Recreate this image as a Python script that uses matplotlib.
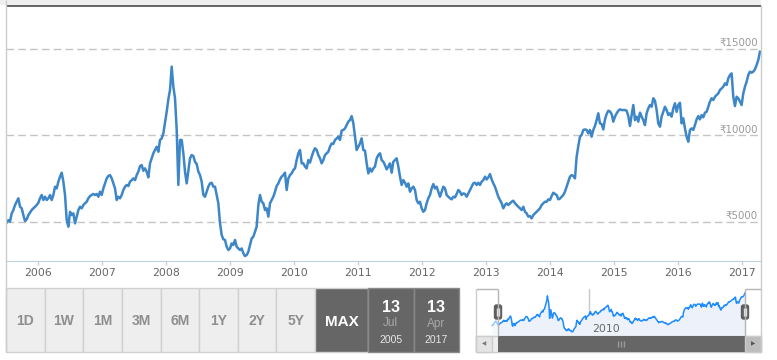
import matplotlib
matplotlib.use("Agg")
import matplotlib.pyplot as plt
import pandas as pd
from matplotlib.patches import Rectangle, FancyBboxPatch

# closing values, one about every 9-10 days
close_2005_2008 = [
    4960, 5100, 5010, 5490, 5680, 5970, 6160, 6360, 5870, 5780, 5390, 5040, 5140, 5390, 5530, 5680,
    5780, 5870, 5970, 6100, 6360, 6550, 6260, 6450, 6260, 6360, 6550, 6260, 6550, 7030, 6930, 7320,
    7610, 7840, 7320, 6550, 5100, 4720, 5580, 5390, 5490, 4910, 5300, 5680, 5870, 5780, 5970, 6070,
    6160, 6360, 6490, 6550, 6610, 6550, 6610, 6450, 6740, 6550, 6930, 7220, 7510, 7650, 7700, 7510,
    7220, 6930, 6260, 6450, 6360, 6550, 6840, 7030, 7130, 7070, 7320, 7410, 7510, 7410, 7700, 7900,
    8220, 8280, 7950, 8090, 7900, 7570, 8380, 8670, 8960, 9150, 9340, 9050, 9730, 9820, 10110, 10730,
    11360, 12080, 12620, 13970, 12810, 12140, 10340, 7130, 9730, 9730, 8960, 7900, 7220, 7950, 8670, 8860,
    8800, 8470,
]
close_2008_2011 = [
    8340, 7900, 7700, 7320, 6550, 6450, 6740, 7030, 7220, 7260, 7030, 7030, 6550, 6070, 4910, 4240,
    3990, 3950, 3560, 3370, 3460, 3750, 3660, 3950, 3560, 3460, 3370, 3460, 3180, 3020, 3080, 3270,
    3660, 4040, 4140, 4430, 4720, 5970, 6550, 6160, 6070, 5680, 5780, 5300, 6070, 6260, 6450, 6740,
    7070, 7220, 7450, 7610, 7700, 7840, 6840, 7510, 7700, 7800, 7990, 8090, 8570, 8960, 9150, 8380,
    8380, 8190, 8090, 8570, 8420, 8760, 9050, 9250, 9150, 8860, 8670, 8380, 8570, 8860, 8960, 9050,
    9340, 9530, 9500, 9730, 9820, 9920, 9730, 10270, 10310, 10400, 10590, 10790, 10880, 11110, 10690, 9920,
    9150, 9340, 9530, 9820, 9150, 9110, 8380, 7800, 8090, 7900, 8090, 8190, 8670, 8860, 8960, 8570,
    8470, 8280,
]
close_2011_2014 = [
    8030, 8190, 8380, 7840, 8470, 8570, 8670, 8190, 7610, 7130, 7410, 7260, 7030, 7220, 6740, 6930,
    7030, 6840, 6260, 6070, 6160, 5780, 5580, 5680, 6070, 6360, 6550, 6930, 7180, 6930, 7030, 6740,
    6450, 6740, 7030, 6930, 6550, 6450, 6360, 6300, 6450, 6410, 6610, 6840, 6740, 6550, 6640, 6610,
    6450, 6640, 6840, 7030, 7220, 7260, 7130, 7260, 7130, 7320, 7410, 7610, 7450, 7570, 7760, 7450,
    7220, 7030, 6740, 6450, 6260, 6070, 5780, 5970, 6070, 5970, 6070, 6160, 6220, 6070, 5970, 5870,
    5780, 5680, 5870, 5580, 5490, 5300, 5330, 5200, 5390, 5490, 5580, 5680, 5780, 5970, 6070, 6160,
    6160, 6300, 6260, 6490, 6680, 6610, 6550, 6300, 6340, 6450, 6550, 6740, 7030, 7320, 7610, 7700,
    7650, 7510,
]
close_2014_2017 = [
    8760, 9380, 9920, 10020, 10310, 10340, 10310, 10110, 10310, 9920, 10310, 10540, 10880, 11270, 10690, 10650,
    10340, 10920, 11230, 11420, 11380, 11230, 10790, 11080, 11270, 11420, 11500, 11460, 11460, 11460, 11420, 11110,
    10540, 11170, 11750, 10880, 11080, 10790, 11310, 11080, 10880, 10590, 11270, 11560, 11750, 11650, 12140, 12000,
    11460, 10690, 10500, 11080, 11360, 11650, 11460, 11170, 11270, 11080, 11560, 11850, 11360, 11750, 11880, 10690,
    10980, 10400, 9920, 9630, 10310, 10400, 10310, 10590, 10920, 11110, 10920, 11170, 11040, 11310, 11360, 11650,
    11940, 12140, 12040, 12230, 12330, 12420, 12620, 12710, 12810, 13000, 12910, 13290, 13480, 13580, 12230, 11690,
    12230, 12140, 11940, 11750, 12420, 12810, 13100, 13480, 13680, 13620, 13680, 13810, 14060, 14350, 14830,
]

first_day = "2005-07-05"
last_day = "2017-04-14"

grid_levels = [5000, 10000, 15000]
grid_labels = ["₹5000", "₹10000", "₹15000"]
years = list(range(2006, 2018))
range_buttons = ["1D", "1W", "1M", "3M", "6M", "1Y", "2Y", "5Y"]
from_date = ("13", "Jul", "2005")
to_date = ("13", "Apr", "2017")

prices = close_2005_2008 + close_2008_2011 + close_2011_2014 + close_2014_2017
dates = pd.date_range(first_day, last_day, periods=len(prices))

plt.rcParams["lines.scale_dashes"] = False
plt.rcParams["font.family"] = ["DejaVu Sans"]

W, H = 777, 360
fig = plt.figure(figsize=(W / 100, H / 100), dpi=100)


def fx(px):
    return px / W


def fy(py):
    return 1 - py / H


# main price chart
ax = fig.add_axes([fx(6), fy(261), fx(761) - fx(6), fy(7) - fy(261)])
ax.plot(dates, prices, color="#3d86c8", lw=1.8, solid_joinstyle="round")
ax.set_xlim(dates[0] - pd.Timedelta(days=4), dates[-1] + pd.Timedelta(days=6))
ax.set_ylim(2735, 17416)
for lvl, lab in zip(grid_levels, grid_labels):
    ax.axhline(lvl, color="#c4c4c4", lw=1, ls=(0, (5.5, 3)), zorder=0)
    ax.annotate(lab, xy=(0.996, lvl), xycoords=("axes fraction", "data"),
                xytext=(0, 2), textcoords="offset points",
                ha="right", va="baseline", color="#999999", fontsize=7.4)
ax.set_yticks([])
for s in ["left", "right", "top"]:
    ax.spines[s].set_visible(False)
ax.spines["bottom"].set_color("#c0d0e0")
ax.set_xticks([pd.Timestamp(f"{y}-01-01") for y in years])
ax.set_xticklabels([str(y) for y in years])
ax.tick_params(axis="x", length=3, width=1, color="#c0d0e0",
               labelsize=7.8, labelcolor="#666666", pad=2)

# navigator
nav = fig.add_axes([fx(476), fy(336), fx(761) - fx(476), fy(289) - fy(336)])
nav.fill_between(dates, prices, 1760, color="#edf2fa", lw=0)
nav.plot(dates, prices, color="#1e8cff", lw=1.1)
nav.set_xlim(dates[0] - pd.Timedelta(days=272), dates[-1] + pd.Timedelta(days=272))
nav.set_ylim(1760, 16050)
nav.axvline(pd.Timestamp("2010-01-01"), color="#c8c8c8", lw=1, zorder=0)
nav.annotate("2010", xy=(pd.Timestamp("2010-01-01"), 0), xycoords=("data", "axes fraction"),
             xytext=(2.5, 3), textcoords="offset points",
             ha="left", va="baseline", color="#666666", fontsize=7.8)
nav.set_xticks([])
nav.set_yticks([])
for s in nav.spines.values():
    s.set_visible(False)

# overlay in pixel units for the frame, buttons and scrollbar
ov = fig.add_axes([0, 0, 1, 1], zorder=10)
ov.set_xlim(0, W)
ov.set_ylim(H, 0)
ov.set_autoscale_on(False)
ov.axis("off")
ov.patch.set_alpha(0)


def box(x0, y0, x1, y1, fc, ec="none", lw=0, **kw):
    ov.add_patch(Rectangle((x0, y0), x1 - x0, y1 - y0, fc=fc, ec=ec, lw=lw, **kw))


def line(xs, ys, c, lw=1):
    ov.plot(xs, ys, color=c, lw=lw, solid_capstyle="butt")


box(0, 0, 761, 4.7, "#efefef")
box(6, 4.7, 761, 7, "#666666")
line([5.7, 5.7], [0, 352], "#cccccc")
line([761, 761], [5, 352], "#cccccc")

# range buttons
btn_w = (315 - 6) / len(range_buttons)
for i, lab in enumerate(range_buttons):
    x0 = 6 + i * btn_w
    box(x0, 288, x0 + btn_w, 352, "#eeeeee", ec="#d0d0d0", lw=1)
    ov.text(x0 + btn_w / 2, 325, lab, ha="center", va="baseline", fontsize=10,
            fontweight="bold", color="#8e8e8e", family="Liberation Sans")
box(315, 288, 368, 352, "#666666", ec="#d0d0d0", lw=1)
ov.text(341.5, 326, "MAX", ha="center", va="baseline", fontsize=11,
        fontweight="bold", color="white", family="Liberation Sans")
for j, (day, mon, yr) in enumerate([from_date, to_date]):
    x0 = 368 + j * 45.5
    xc = x0 + 22.75
    box(x0, 288, x0 + 45.5, 352, "#666666", ec="#8a8a8a", lw=1)
    ov.text(xc, 312.5, day, ha="center", va="baseline", fontsize=11.5,
            fontweight="bold", color="white", family="Liberation Sans")
    ov.text(xc, 326.5, mon, ha="center", va="baseline", fontsize=8.5,
            color="#a8a8a8", family="Liberation Sans")
    ov.text(xc, 343, yr, ha="center", va="baseline", fontsize=7.5,
            color="#e6e6e6", family="Liberation Sans")

# navigator frame, mask and handles
box(476, 289, 498, 336, "white", alpha=0.55)
line([476, 498], [289, 289], "#b5b5b5")
line([498, 498], [289, 336], "#b5b5b5")
line([745, 761], [289, 289], "#b5b5b5")
line([745, 745], [289, 336], "#b5b5b5")
line([476, 476], [289, 352], "#cccccc")

# scrollbar
box(476, 336, 761, 352, "#eeeeee", ec="#cccccc", lw=1)
box(476, 336, 492, 352, "#e4e4e4", ec="#cccccc", lw=1)
box(498, 336, 745, 352, "#666666")
box(745, 336, 761, 352, "#bdbdbd", ec="#cccccc", lw=1)
ov.text(484, 344, "◀", ha="center", va="center", fontsize=4, color="#777777")
ov.text(753, 344, "▶", ha="center", va="center", fontsize=4, color="#555555")
for gx in (618, 621, 624):
    line([gx, gx], [341, 347], "#9a9a9a")

for hx in (498, 745):
    ov.add_patch(FancyBboxPatch((hx - 3.5, 305), 7, 14,
                                boxstyle="round,pad=0,rounding_size=2",
                                fc="#5e5e5e", ec="#5e5e5e", lw=1))
    line([hx - 1, hx - 1], [308, 316], "#e0e0e0")
    line([hx + 1, hx + 1], [308, 316], "#e0e0e0")

fig.savefig("out.png", dpi=100)
